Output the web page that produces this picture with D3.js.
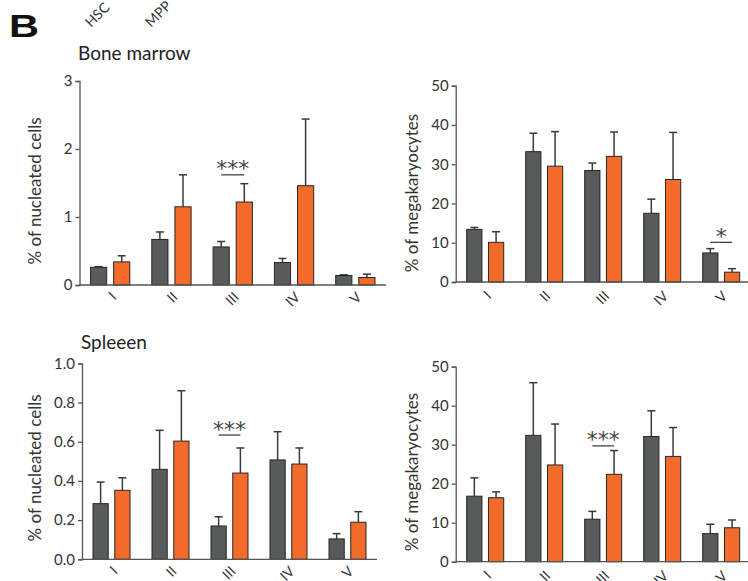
<!DOCTYPE html>
<html><head><meta charset="utf-8">
<script src="https://cdn.jsdelivr.net/npm/d3@7"></script>
<style>
html,body{margin:0;padding:0;background:#fff;}
svg{display:block;font-family:Lato,"Open Sans",sans-serif;}
</style></head>
<body>
<svg id="chart" width="748" height="581"></svg>
<script>
// ---------- data ----------
const categories = ["I", "II", "III", "IV", "V"];
const seriesNames = ["HSC", "MPP"];

// Bone marrow, % of nucleated cells
const bmNucHSC = [0.26, 0.67, 0.56, 0.33, 0.14];
const bmNucHSCErr = [0.01, 0.11, 0.08, 0.06, 0.01];
const bmNucMPP = [0.34, 1.15, 1.22, 1.46, 0.11];
const bmNucMPPErr = [0.09, 0.47, 0.27, 0.98, 0.05];
const bmNucTicks = [0, 1, 2, 3];

// Bone marrow, % of megakaryocytes
const bmMkHSC = [13.4, 33.2, 28.4, 17.5, 7.4];
const bmMkHSCErr = [0.5, 4.7, 1.9, 3.6, 1.1];
const bmMkMPP = [10.1, 29.5, 32.0, 26.1, 2.5];
const bmMkMPPErr = [2.7, 8.8, 6.2, 12.0, 0.9];
const mkTicks = [0, 10, 20, 30, 40, 50];

// Spleen, % of nucleated cells
const spNucHSC = [0.284, 0.459, 0.170, 0.507, 0.104];
const spNucHSCErr = [0.110, 0.199, 0.047, 0.144, 0.027];
const spNucMPP = [0.352, 0.603, 0.440, 0.486, 0.189];
const spNucMPPErr = [0.064, 0.257, 0.128, 0.082, 0.054];
const spNucTicks = [0, 0.2, 0.4, 0.6, 0.8, 1.0];

// Spleen, % of megakaryocytes
const spMkHSC = [16.8, 32.4, 10.9, 32.1, 7.2];
const spMkHSCErr = [4.7, 13.5, 2.0, 6.6, 2.4];
const spMkMPP = [16.4, 24.8, 22.4, 27.0, 8.7];
const spMkMPPErr = [1.5, 10.5, 6.1, 7.4, 2.0];

// significance annotations: [category, level, label]
const bmNucSig = ["III", 1.62, "***"];
const bmMkSig = ["V", 10.1, "*"];
const spNucSig = ["III", 0.634, "***"];
const spMkSig = ["III", 29.7, "***"];

const panelLetter = "B";
const titleBM = "Bone marrow";
const titleSp = "Spleeen";
const yLabelNuc = "% of nucleated cells";
const yLabelMk = "% of megakaryocytes";

// ---------- styles ----------
const colors = {HSC: "#575b5b", MPP: "#f26b2b"};
const axisColor = "#555";
const textColor = "#333";

const svg = d3.select("#chart");

// panel layout
const panels = [
  {x0: 79.5, step: 61.3, yTop: 81, yBot: 285, max: 3, ticks: bmNucTicks, fmt: d3.format("d"),
   hsc: bmNucHSC, hscE: bmNucHSCErr, mpp: bmNucMPP, mppE: bmNucMPPErr, sig: bmNucSig,
   ylab: yLabelNuc, ylabX: 41, ylabY: 191, tickOff: 13},
  {x0: 455.7, step: 59, yTop: 85.7, yBot: 282, max: 50, ticks: mkTicks, fmt: d3.format("d"),
   hsc: bmMkHSC, hscE: bmMkHSCErr, mpp: bmMkMPP, mppE: bmMkMPPErr, sig: bmMkSig,
   ylab: yLabelMk, ylabX: 418, ylabY: 193, tickOff: 15},
  {x0: 82, step: 59, yTop: 363.3, yBot: 559.3, max: 1, ticks: spNucTicks, fmt: d3.format(".1f"),
   hsc: spNucHSC, hscE: spNucHSCErr, mpp: spNucMPP, mppE: spNucMPPErr, sig: spNucSig,
   ylab: yLabelNuc, ylabX: 41, ylabY: 468, tickOff: 13},
  {x0: 455.7, step: 59, yTop: 366.7, yBot: 561.7, max: 50, ticks: mkTicks, fmt: d3.format("d"),
   hsc: spMkHSC, hscE: spMkHSCErr, mpp: spMkMPP, mppE: spMkMPPErr, sig: spMkSig,
   ylab: yLabelMk, ylabX: 418, ylabY: 472, tickOff: 15}
];

panels.forEach(p => {
  const g = svg.append("g");
  const pad = 22 / p.step;
  const x = d3.scaleBand().domain(categories)
    .range([p.x0, p.x0 + categories.length * p.step])
    .paddingInner(pad).paddingOuter(pad / 2);
  const xs = d3.scaleBand().domain(seriesNames).range([0, x.bandwidth()]).paddingInner(0.3);
  const y = d3.scaleLinear().domain([0, p.max]).range([p.yBot, p.yTop]);

  const rows = [];
  categories.forEach((c, i) => {
    rows.push({cat: c, s: "HSC", v: p.hsc[i], e: p.hscE[i]});
    rows.push({cat: c, s: "MPP", v: p.mpp[i], e: p.mppE[i]});
  });

  // error bars (upper only)
  const eb = g.append("g").attr("stroke", "#3a3a3a").attr("stroke-width", 1.5).attr("fill", "none");
  rows.forEach(r => {
    const cx = x(r.cat) + xs(r.s) + xs.bandwidth() / 2;
    eb.append("line").attr("x1", cx).attr("x2", cx).attr("y1", y(r.v)).attr("y2", y(r.v + r.e));
    eb.append("line").attr("x1", cx - 4).attr("x2", cx + 4).attr("y1", y(r.v + r.e)).attr("y2", y(r.v + r.e));
  });

  // bars
  g.append("g").selectAll("rect").data(rows).join("rect")
    .attr("x", d => x(d.cat) + xs(d.s))
    .attr("y", d => y(d.v))
    .attr("width", xs.bandwidth())
    .attr("height", d => y(0) - y(d.v))
    .attr("fill", d => colors[d.s])
    .attr("stroke", "#262626").attr("stroke-width", 1);

  // y axis
  const ya = g.append("g").attr("transform", `translate(${p.x0},0)`)
    .call(d3.axisLeft(y).tickValues(p.ticks).tickFormat(p.fmt).tickSize(4).tickPadding(3));
  ya.select(".domain").attr("stroke", axisColor).attr("stroke-width", 1.3);
  ya.selectAll(".tick line").attr("stroke", axisColor).attr("stroke-width", 1.3);
  ya.selectAll(".tick text").attr("fill", textColor).style("font-size", "15px").style("font-family", "Lato");

  // x axis line
  g.append("line").attr("x1", p.x0).attr("x2", x.range()[1]).attr("y1", y(0)).attr("y2", y(0))
    .attr("stroke", axisColor).attr("stroke-width", 1.3);

  // x tick labels
  categories.forEach(c => {
    const cx = x(c) + x.bandwidth() / 2;
    g.append("text").text(c)
      .attr("transform", `translate(${cx + 7},${y(0) + p.tickOff}) rotate(-45)`)
      .attr("text-anchor", "end")
      .attr("fill", textColor).style("font-size", "14px");
  });

  // y label
  g.append("text").text(p.ylab)
    .attr("transform", `translate(${p.ylabX},${p.ylabY}) rotate(-90)`)
    .attr("text-anchor", "middle").attr("fill", textColor).style("font-size", "17px");

  // significance
  const [sc, sl, slab] = p.sig;
  const c1 = x(sc) + xs("HSC") + xs.bandwidth() / 2;
  const c2 = x(sc) + xs("MPP") + xs.bandwidth() / 2;
  g.append("line").attr("x1", c1).attr("x2", c2).attr("y1", y(sl)).attr("y2", y(sl))
    .attr("stroke", "#444").attr("stroke-width", 1.3);
  const n = slab.length;
  const mid = (c1 + c2) / 2;
  for (let k = 0; k < n; k++) {
    g.append("text").text(slab[k])
      .attr("x", mid + (k - (n - 1) / 2) * 11)
      .attr("y", y(sl) + 1.5)
      .attr("text-anchor", "middle")
      .attr("fill", "#444")
      .style("font-family", "DejaVu Sans").style("font-size", "22px");
  }
});

// titles
svg.append("text").text(panelLetter)
  .attr("transform", "translate(9,37) scale(1.3,1)")
  .style("font-family", "Liberation Sans, Arial, sans-serif").style("font-weight", "bold")
  .style("font-size", "32px").attr("fill", "#111");
svg.append("text").text(titleBM).attr("x", 78).attr("y", 60)
  .style("font-size", "19px").attr("fill", "#222");
svg.append("text").text(titleSp).attr("x", 81).attr("y", 349)
  .style("font-size", "19px").attr("fill", "#222");

// series legend labels (rotated)
const legX = {HSC: 91, MPP: 151};
seriesNames.forEach(s => {
  svg.append("text").text(s)
    .attr("transform", `translate(${legX[s]},28) rotate(-45)`)
    .attr("fill", textColor).style("font-size", "14px");
});
</script>
</body></html>
